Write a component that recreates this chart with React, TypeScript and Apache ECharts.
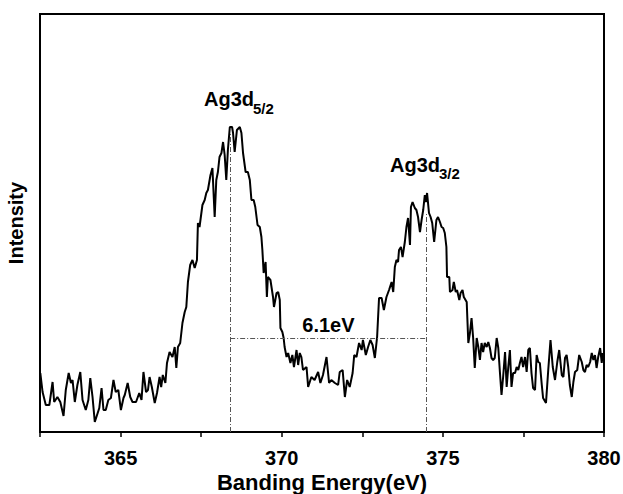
import React, { useEffect, useRef } from "react";
import * as echarts from "echarts";

const FONT = "'Liberation Sans', Arial, sans-serif";

// Binding energy (eV)
const energy = [
  362.51, 362.58, 362.68, 362.79, 362.89, 362.94, 363.04, 363.13, 363.23, 363.3,
  363.39, 363.46, 363.51, 363.58, 363.66, 363.75, 363.82, 363.92, 364.0, 364.06,
  364.13, 364.2, 364.29, 364.34, 364.41, 364.47, 364.54, 364.62, 364.7, 364.78,
  364.85, 364.93, 365.01, 365.09, 365.13, 365.22, 365.3, 365.37, 365.48, 365.58,
  365.65, 365.71, 365.79, 365.85, 365.9, 365.97, 366.06, 366.13, 366.21, 366.26,
  366.31, 366.39, 366.44, 366.52, 366.61, 366.68, 366.73, 366.78, 366.85, 366.92,
  366.99, 367.04, 367.09, 367.16, 367.23, 367.3, 367.37, 367.4, 367.45, 367.54,
  367.61, 367.66, 367.71, 367.79, 367.85, 367.92, 367.97, 368.02, 368.07, 368.13,
  368.18, 368.23, 368.28, 368.33, 368.39, 368.46, 368.49, 368.54, 368.61, 368.7,
  368.75, 368.8, 368.88, 368.95, 369.01, 369.06, 369.13, 369.18, 369.25, 369.32,
  369.37, 369.4, 369.44, 369.5, 369.54, 369.57, 369.65, 369.73, 369.76, 369.84,
  369.89, 369.94, 369.96, 370.02, 370.06, 370.09, 370.15, 370.2, 370.27, 370.33,
  370.38, 370.46, 370.51, 370.56, 370.61, 370.66, 370.77, 370.82, 370.92, 371.02,
  371.13, 371.2, 371.28, 371.39, 371.47, 371.54, 371.65, 371.75, 371.8, 371.89,
  371.96, 372.03, 372.11, 372.2, 372.25, 372.32, 372.4, 372.48, 372.52, 372.61,
  372.68, 372.75, 372.82, 372.89, 372.96, 373.02, 373.1, 373.17, 373.25, 373.33,
  373.41, 373.46, 373.51, 373.56, 373.61, 373.64, 373.7, 373.75, 373.82, 373.87,
  373.92, 373.98, 374.01, 374.06, 374.13, 374.18, 374.23, 374.29, 374.34, 374.39,
  374.44, 374.47, 374.51, 374.57, 374.62, 374.67, 374.73, 374.8, 374.85, 374.91,
  374.96, 375.01, 375.06, 375.11, 375.13, 375.2, 375.22, 375.3, 375.34, 375.4,
  375.44, 375.51, 375.55, 375.61, 375.65, 375.74, 375.79, 375.84, 375.89, 375.94,
  375.99, 376.05, 376.1, 376.15, 376.2, 376.25, 376.3, 376.36, 376.41, 376.46,
  376.51, 376.56, 376.61, 376.67, 376.72, 376.77, 376.82, 376.87, 376.93, 376.98,
  377.03, 377.08, 377.13, 377.18, 377.24, 377.29, 377.34, 377.39, 377.44, 377.49,
  377.55, 377.6, 377.65, 377.7, 377.75, 377.8, 377.86, 377.91, 377.96, 378.01,
  378.07, 378.11, 378.2, 378.27, 378.34, 378.41, 378.48, 378.55, 378.61, 378.69,
  378.74, 378.79, 378.84, 378.89, 378.94, 379.0, 379.05, 379.1, 379.17, 379.23,
  379.31, 379.36, 379.41, 379.46, 379.51, 379.57, 379.62, 379.67, 379.72, 379.77,
  379.82, 379.88, 379.93, 379.96,
];

// Intensity (a.u.)
const intensity = [
  59, 40, 27, 27, 50, 30, 35, 30, 16, 42,
  59, 49, 52, 30, 47, 60, 32, 22, 32, 54,
  35, 10, 19, 24, 44, 22, 22, 32, 34, 52,
  40, 42, 22, 34, 37, 49, 35, 30, 30, 39,
  32, 60, 40, 42, 55, 45, 29, 39, 55, 45,
  57, 49, 69, 80, 75, 85, 64, 85, 89, 109,
  120, 125, 150, 167, 172, 164, 172, 209, 205, 227,
  232, 239, 242, 257, 264, 215, 252, 260, 275, 279,
  290, 277, 252, 282, 305, 305, 299, 280, 302, 305,
  299, 279, 260, 260, 252, 232, 232, 225, 207, 205,
  195, 182, 159, 170, 135, 155, 152, 135, 125, 139,
  140, 132, 104, 100, 94, 85, 75, 79, 69, 77,
  65, 82, 67, 79, 75, 62, 65, 45, 55, 52,
  60, 49, 57, 75, 49, 52, 49, 47, 60, 62,
  35, 52, 45, 59, 77, 75, 89, 82, 92, 77,
  85, 92, 87, 74, 95, 134, 134, 122, 135, 142,
  150, 140, 165, 172, 170, 182, 185, 175, 190, 205,
  214, 187, 225, 230, 224, 222, 215, 200, 212, 222,
  237, 230, 239, 219, 215, 209, 190, 212, 215, 210,
  205, 204, 199, 185, 155, 155, 140, 142, 150, 140,
  142, 132, 139, 142, 135, 130, 89, 99, 114, 94,
  64, 94, 85, 72, 89, 80, 89, 85, 90, 84,
  74, 72, 74, 94, 84, 60, 37, 55, 80, 45,
  65, 82, 45, 59, 59, 65, 62, 69, 75, 65,
  75, 60, 82, 84, 59, 44, 42, 77, 70, 69,
  47, 34, 29, 62, 92, 65, 52, 70, 82, 57,
  55, 74, 77, 65, 47, 35, 50, 60, 62, 77,
  70, 62, 60, 67, 65, 70, 79, 72, 77, 64,
  75, 84, 69, 79,
];

const xTickLabels = ["365", "370", "375", "380"];
const xTitle = "Banding Energy(eV)";

const peak52 = 368.4; // Ag3d5/2 position
const peak32 = 374.5; // Ag3d3/2 position
const peak52Top = 300;
const peak32Top = 219;
const splitLevel = 94;
const splitLabel = "6.1eV";

export default function App() {
  const ref = useRef<HTMLDivElement>(null);

  useEffect(() => {
    if (!ref.current) return;
    const chart = echarts.init(ref.current, null, { renderer: "svg" });
    const data = energy.map((e, i) => [e, intensity[i]]);
    const dashDot = { color: "#555", width: 1, type: [5, 2, 1, 2] as any };

    chart.setOption({
      animation: false,
      backgroundColor: "#fff",
      grid: {
        left: 40,
        right: 19,
        top: 14,
        bottom: 62,
        outerBoundsMode: "none",
        containLabel: false,
        show: true,
        borderColor: "#000",
        borderWidth: 2,
        backgroundColor: "transparent",
      },
      xAxis: {
        type: "value",
        min: 362.5,
        max: 380,
        interval: 2.5,
        axisLine: { show: true, lineStyle: { color: "#000", width: 2 } },
        axisTick: { show: true, inside: false, length: 5, lineStyle: { color: "#000", width: 1.5 } },
        axisLabel: {
          margin: 16,
          fontFamily: FONT,
          fontWeight: "bold",
          fontSize: 20,
          color: "#000",
          formatter: (v: number) => {
            const s = String(Math.round(v));
            return Math.abs(v - Math.round(v)) < 1e-6 && xTickLabels.includes(s) ? s : "";
          },
        },
        splitLine: { show: false },
      },
      yAxis: {
        type: "value",
        min: 0,
        max: 418,
        name: "Intensity",
        nameLocation: "middle",
        nameGap: 14,
        nameTextStyle: { fontFamily: FONT, fontWeight: "bold", fontSize: 20, color: "#000" },
        axisLine: { show: true, lineStyle: { color: "#000", width: 2 } },
        axisTick: { show: false },
        axisLabel: { show: false },
        splitLine: { show: false },
      },
      series: [
        {
          type: "line",
          data,
          showSymbol: false,
          symbol: "none",
          lineStyle: { color: "#000", width: 2 },
          z: 3,
          markLine: {
            silent: true,
            symbol: ["none", "none"],
            lineStyle: dashDot,
            label: { show: false },
            data: [
              [{ coord: [peak52, 0] }, { coord: [peak52, peak52Top] }],
              [{ coord: [peak32, 0] }, { coord: [peak32, peak32Top] }],
              [
                {
                  coord: [peak52, splitLevel],
                  label: {
                    show: true,
                    formatter: splitLabel,
                    position: "middle",
                    distance: 3,
                    fontFamily: FONT,
                    fontWeight: "bold",
                    fontSize: 20,
                    color: "#000",
                  },
                },
                { coord: [peak32, splitLevel] },
              ],
            ],
          },
        },
      ],
      graphic: [
        {
          type: "text",
          x: 322,
          y: 482,
          style: {
            text: xTitle,
            font: `bold 22px ${FONT}`,
            fill: "#000",
            align: "center",
            verticalAlign: "middle",
          },
        },
        { type: "text", left: 204, top: 89, style: { text: "Ag3d", font: `bold 20px ${FONT}`, fill: "#000" } },
        { type: "text", left: 253, top: 101, style: { text: "5/2", font: `bold 15px ${FONT}`, fill: "#000" } },
        { type: "text", left: 390, top: 155, style: { text: "Ag3d", font: `bold 20px ${FONT}`, fill: "#000" } },
        { type: "text", left: 439, top: 166, style: { text: "3/2", font: `bold 15px ${FONT}`, fill: "#000" } },
      ],
    });
    return () => chart.dispose();
  }, []);

  return (
    <div
      ref={ref}
      style={{ position: "absolute", left: 0, top: 0, width: 623, height: 494 }}
    />
  );
}
